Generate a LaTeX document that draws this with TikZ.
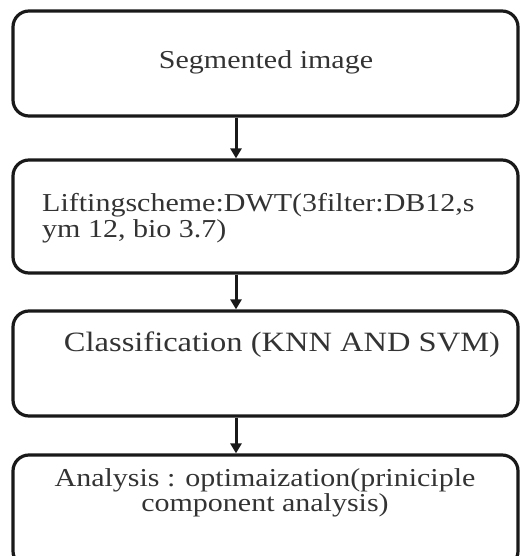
\documentclass[tikz,border=0pt]{standalone}
\usepackage{fontspec}
\usepackage{graphicx}
\setmainfont{Liberation Serif}
\usetikzlibrary{arrows.meta}
\newcommand\vsq[1]{\scalebox{1}[0.86]{#1}}
\begin{document}
\begin{tikzpicture}[x=1pt,y=-1pt,
  stagebox/.style={draw=black!90, line width=3.2pt, rounded corners=16pt, minimum width=505pt, inner sep=0pt},
  txt/.style={inner sep=0pt, text=black!80, font=\fontsize{30}{29}\selectfont}]
\tikzset{flow/.style={line width=3pt, draw=black!90, -{Triangle[length=10pt,width=11pt]}}}
\useasboundingbox (0,0) rectangle (520,556);
\node[stagebox, minimum height=105pt] (b1) at (265.5,63.5) {};
\node[txt] (t1) at (266,62) {\vsq{Segmented image}};
\node[stagebox, minimum height=113pt] (b2) at (265.5,216.5) {};
\node[txt, anchor=west] (t2) at (42,219) {\vsq{\begin{tabular}{@{}l@{}}Liftingscheme:DWT(3filter:DB12,s\\ym 12, bio 3.7)\end{tabular}}};
\node[stagebox, minimum height=105pt] (b3) at (265.5,363.5) {};
\node[txt, font=\fontsize{32.5}{30}\selectfont] (t3) at (282,345) {\vsq{Classification (KNN AND SVM)}};
\node[stagebox, minimum height=112pt] (b4) at (265.5,511) {};
\node[txt] (t4) at (265,494) {\vsq{\begin{tabular}{@{}c@{}}Analysis : optimaization(priniciple\\[-1pt]component analysis)\end{tabular}}};
\draw[flow] (b1.south -| 236,0) -- (b2.north -| 236,0);
\draw[flow] (b2.south -| 236,0) -- (b3.north -| 236,0);
\draw[flow] (b3.south -| 236,0) -- (b4.north -| 236,0);
\end{tikzpicture}
\end{document}
